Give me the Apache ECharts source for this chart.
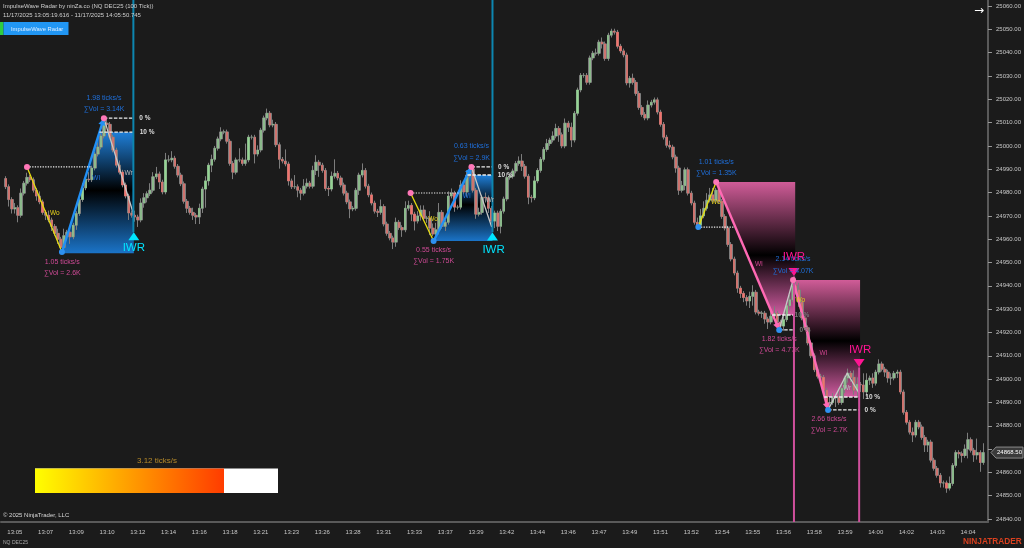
<!DOCTYPE html>
<html><head><meta charset="utf-8">
<style>html,body{margin:0;padding:0;background:#1b1b1b}#c{width:1024px;height:548px}</style>
<script src="https://cdn.jsdelivr.net/npm/echarts@6/dist/echarts.min.js"></script>
</head><body><div id="c"></div>
<script>
const timeLabels = ['13:05','13:07','13:09','13:10','13:12','13:14','13:16','13:18','13:21','13:23','13:26','13:28','13:31','13:33','13:37','13:39','13:42','13:44','13:46','13:47','13:49','13:51','13:52','13:54','13:55','13:56','13:58','13:59','14:00','14:02','14:03','14:04'];
const priceTicks = [25060,25050,25040,25030,25020,25010,25000,24990,24980,24970,24960,24950,24940,24930,24920,24910,24900,24890,24880,24870,24860,24850,24840];
const firstOpen = 24986;
const closes = [
24982.5,24977,24973,24973.5,24970.25,24979.75,24984,24986.5,24985.5,24981,24978.5,24976,24971.5,24970.25,24968.25,24965.5,24962.5,24960,24956.5,24961.5,
24963,24961,24966,24971,24977,24982,24985.75,24985.5,24990.5,24996.5,24999.5,25004.25,25009.75,25009.25,25003.75,24998.25,24991.75,24988.75,24983.25,24978.5,
24971.25,24970.25,24969.5,24968.25,24975.5,24977.75,24979.5,24981,24986.75,24988,24984.5,24980.25,24994,24994,24994.75,24991.25,24987.5,24983.75,24976.25,24973.25,
24971.5,24970.25,24969.5,24973.25,24981.5,24985,24991.75,24994.25,24999,25003,25006,25006,25002,24992.5,24988.75,24994,24994,24992.5,24994,25003.75,
25003.75,24996.5,24998.25,25006.75,25012,25014,25009,25009.25,25000.5,24994.25,24993.5,24992.25,24985,24982.5,24982.5,24981,24979.75,24982.75,24984,24982.75,
24989.5,24993,24991.75,24989.5,24981.75,24981.5,24987,24988.25,24986.25,24983.25,24979.75,24976,24973,24973.25,24981,24987.5,24989.5,24982.75,24979,24975.5,
24972,24971.5,24974,24966.5,24962.5,24960.5,24958.75,24967.25,24965,24964,24973.25,24974.5,24970.75,24967.75,24970,24972.5,24969,24969,24964.75,24962.25,
24964,24971.5,24965.5,24967.25,24978.5,24979.75,24973.75,24973.75,24983.25,24980.25,24987.5,24990,24981,24970.75,24971.5,24978,24977.75,24973.25,24967.75,24971.25,
24965.5,24972,24977.25,24986.5,24987,24989.25,24992.5,24993.5,24991.25,24987,24978,24977.75,24985,24989.5,24994.25,24998.5,25001,25002.5,25004.25,25007.5,
25004.75,25000,25009.75,25008,25002.5,25014,25024,25030.25,25030.25,25027.25,25037.75,25039.75,25039.75,25044.5,25043.75,25037.5,25047.5,25049.25,25048.75,25042.75,
25040.75,25039,25027,25029,25027.25,25022.5,25016.5,25013.5,25012,25017.5,25018.75,25019.75,25014.5,25009.25,25003.75,25000.25,24999.5,24995.25,24990.5,24981,
24983,24989.75,24979.75,24975.5,24967.25,24966,24970,24973.25,24976.75,24979,24976.75,24981,24976.25,24969.75,24964.75,24957.75,24951.5,24945.5,24939,24936.75,
24935,24933.5,24935.5,24937.25,24928.75,24928.25,24928.25,24925.75,24924.5,24927,24928.25,24924.5,24922.75,24925.5,24931.5,24934,24940,24938.25,24933,24926.25,
24922,24915.5,24910,24904,24901.25,24900.75,24895.25,24889.75,24890,24892,24892.25,24890,24896,24900.5,24902.5,24900.75,24895.25,24897.75,24897.5,24894.5,
24899.5,24900.5,24898.25,24903,24906.5,24904.25,24903,24900.5,24900.5,24902.5,24903,24894.5,24885.75,24881.5,24877.25,24876,24881.5,24879.5,24875,24871.75,
24873,24865.25,24861.75,24858.75,24855.5,24855.5,24853.25,24855.25,24863,24868.5,24868,24867.25,24870,24874,24869.5,24867.5,24868.5,24864.25,24868.5];
const wickUp = [
1,1,1,2,1,2,1,2,1,1,1,2,1,1,2,1,1,2,1,3,
1,2,1,1,1,2,1,3,1,1,2,1,1,2,1,1,1,2,1,1,
1,1,2,1,2,2,1,3,2,3,1,1,3,2,3,1,1,1,1,1,
1,2,1,2,1,2,1,2,1,1,2,1,1,1,1,1,5,1,7,1,
1,1,2,1,1,2,1,2,1,1,1,5,1,1,5,1,1,3,2,1,
2,3,1,1,1,1,2,6,1,1,1,1,1,1,1,1,3,1,1,1,
1,1,3,1,1,1,1,2,1,1,3,2,1,1,2,2,2,1,3,2,
3,4,1,1,2,2,1,1,2,1,2,2,1,1,2,1,2,1,1,1,
1,1,1,2,1,1,1,2,3,1,1,1,2,1,1,1,2,1,2,2,
1,1,2,1,2,1,1,1,1,1,1,1,2,1,2,1,1,1,1,1,
1,1,1,1,2,1,1,1,1,2,1,1,1,1,1,1,2,1,1,1,
2,1,1,1,1,2,3,3,3,3,3,1,1,1,1,1,1,1,1,1,
1,1,2,3,1,1,1,1,1,4,3,1,1,2,2,2,1,2,3,1,
1,1,1,1,1,1,1,1,2,2,1,4,2,1,2,1,3,3,1,5,
3,1,2,1,2,1,1,1,2,1,1,1,1,1,1,2,1,1,1,1,
1,1,1,1,1,1,1,3,1,1,1,1,2,3,1,1,6,1,4];
const wickDn = [
1,3,2,2,3,1,1,1,1,1,2,1,1,2,1,2,1,2,1,1,
2,3,1,2,1,1,1,1,1,1,1,1,1,1,1,1,1,1,1,1,
3,1,2,3,1,2,2,1,1,1,3,1,1,1,1,1,1,1,1,2,
1,2,3,3,2,8,2,3,1,1,1,1,1,1,3,1,1,1,1,1,
1,4,1,1,1,1,1,1,1,4,1,1,2,1,1,3,3,1,1,1,
1,2,5,1,1,3,1,1,1,1,1,1,4,1,1,2,1,1,1,1,
1,2,1,1,1,1,3,2,1,3,1,1,3,4,1,2,1,2,3,1,
1,2,1,2,1,1,2,1,1,1,2,1,1,2,1,1,2,2,1,3,
2,3,1,1,1,1,1,1,2,1,3,2,1,1,1,1,1,1,1,1,
3,1,1,2,3,1,1,1,1,1,1,1,1,1,2,1,1,1,1,1,
1,1,1,2,1,1,1,1,1,1,1,1,1,1,1,1,1,1,2,2,
1,2,1,1,1,2,1,1,1,1,1,1,1,1,1,1,1,1,2,2,
2,2,3,4,1,1,2,2,3,1,2,3,3,2,1,2,1,2,2,1,
1,1,1,1,1,1,1,2,2,1,4,1,1,2,2,2,2,3,3,3,
2,2,2,1,1,1,2,2,3,1,2,1,1,1,1,3,1,1,1,3,
3,1,1,1,2,2,2,1,1,1,2,3,1,4,1,3,2,4,1];

// overlays: x in bar positions, y in price
const fillBlue1 = [[19.82,24954],[32,25005.9],[43.2,25005.9],[43.2,24954]];
const fillBlue2 = [[140.7,24959.2],[151.7,24987.5],[159.85,24987.5],[159.85,24959.2]];
const fillPink1 = [[232.6,24984.5],[258.3,24984.5],[258.3,24927.5],[251,24927.5]];
const fillPink2 = [[257.6,24942.5],[279.4,24942.5],[279.4,24892.3],[267.9,24892.3]];
const yellowLegs = [[[8.45,24991],[19.82,24954.5]],[[133.2,24979.8],[140.7,24959.2]],[[226.8,24965.2],[232.6,24984.5]],[[257.6,24942.5],[260.5,24928]]];
const blueLegs = [[[19.82,24954.5],[33.46,25011.9]],[[140.7,24959.2],[153,24991]]];
const pinkLegs = [[[232.6,24984.5],[253.1,24921.1]],[[257.6,24942.5],[269,24886.8]]];
const paleLegs = [[[33.46,25011.9],[43.2,24970.4]],[[153,24991],[159.6,24965.2]],[[253.1,24921.1],[257.6,24942.5]],[[269,24886.8],[275.2,24902.5],[279.1,24894]]];
const dottedLevels = [[8.45,29.57,24991],[133.2,148.8,24979.8],[226.8,238.5,24965.2]];
const dashedLevels = [[33.46,43.05,25011.9],[32,43.05,25005.9],[153,159.85,24991],[151.7,159.85,24987.5],[253.1,257.6,24921.1],[250.8,257.6,24927.5],[269,279.1,24886.8],[267.7,279.1,24892.3]];
const pinkDots = [[8.45,24991],[33.46,25011.9],[133.2,24979.8],[153,24991],[232.6,24984.5],[257.6,24942.5]];
const blueDots = [[19.82,24954.5],[140.7,24959.2],[226.8,24965.2],[253.1,24921.1],[269,24886.8]];
const tealVerticals = [[43.05,25062.57,24963],[159.85,25062.57,24963]];
const pinkVerticals = [[257.9,24944,24838.73],[279.1,24905,24838.73]];
const upTriangles = [[43.2,24959.6],[159.85,24959.4]];
const downTriangles = [[257.9,24944.2],[279.1,24905.2]];
const labels = [
 [33.5,25020.5,'1.98 ticks/s','up'],[33.5,25015.8,'∑Vol = 3.14K','up'],
 [19.9,24950.2,'1.05 ticks/s','dn'],[19.9,24945.5,'∑Vol = 2.6K','dn'],
 [46.8,25011.9,'0 %','pct'],[47.5,25005.9,'10 %','pct'],
 [43.2,24956.2,'IWR','iwrUp'],
 [17.5,24971.2,'Wo','wo'],[31,24986.2,'WI','wi'],[41.5,24988.4,'Wr','wr'],
 [153,25000,'0.63 ticks/s','up'],[153,24994.8,'∑Vol = 2.9K','up'],
 [140.7,24955.4,'0.55 ticks/s','dn'],[140.7,24950.7,'∑Vol = 1.75K','dn'],
 [163.5,24991,'0 %','pct'],[164,24987.5,'10 %','pct'],
 [160.2,24955.4,'IWR','iwrUp'],
 [140.5,24968.7,'Wo','wo'],[151.5,24978.5,'WI','wi'],[159,24976.8,'Wr','wr'],
 [232.6,24993.1,'1.01 ticks/s','up'],[232.6,24988.4,'∑Vol = 1.35K','up'],
 [257.6,24951.5,'2.14 ticks/s','up'],[257.6,24946.4,'∑Vol = 4.07K','up'],
 [253.1,24917.2,'1.82 ticks/s','dn'],[253.1,24912.5,'∑Vol = 4.77K','dn'],
 [260.5,24927.5,'10 %','pctDim'],[261.5,24921.1,'0 %','pctDim'],
 [257.9,24952.4,'IWR','iwrDn'],
 [232.5,24976,'Wo','wo'],[246.5,24949.4,'WI','wip'],[260,24933.9,'Wo','wo'],
 [269.3,24882.9,'2.66 ticks/s','dn'],[269.3,24878.2,'∑Vol = 2.7K','dn'],
 [283.5,24892.3,'10 %','pct'],[282.7,24886.8,'0 %','pct'],
 [279.4,24912.5,'IWR','iwrDn'],
 [267.5,24911.2,'WI','wip'],[275.2,24896.2,'Wr','wr']
];

const labelStyles = {
 up:{fill:'#1f70dc',font:'7px "Liberation Sans"'}, dn:{fill:'#cf4a96',font:'7px "Liberation Sans"'},
 pct:{fill:'#dddddd',font:'bold 6.5px "Liberation Sans"'}, pctDim:{fill:'#777777',font:'bold 6.5px "Liberation Sans"'},
 iwrUp:{fill:'#00e5ff',font:'11.5px "Liberation Sans"'}, iwrDn:{fill:'#ff1493',font:'11.5px "Liberation Sans"'},
 wo:{fill:'#e6d21c',font:'6.5px "Liberation Sans"'}, wi:{fill:'#1f70dc',font:'6.5px "Liberation Sans"'},
 wip:{fill:'#d0458f',font:'6.5px "Liberation Sans"'}, wr:{fill:'#bbbbbb',font:'6.5px "Liberation Sans"'}
};
const T = '"Liberation Sans"';
const barCount = 321, firstBar = 1, firstTickBar = 4, barsPerTick = 10;
const priceMin = 24838.73, priceMax = 25062.57;

const cats = Array.from({length:barCount},(_,i)=>i);
const rows = [], bodies = [];
closes.forEach((c,k)=>{
  const o = k ? closes[k-1] : firstOpen;
  const top = Math.max(o,c), bot = Math.min(o,c);
  rows.push([o,c,bot-wickDn[k],top+wickUp[k]]);
  bodies.push([o,c,bot,top]);
});
const pad = Array(firstBar).fill('-');
const last = closes[closes.length-1];

function polyFill(api, pts, stops){
  return {type:'polygon',shape:{points:pts.map(p=>api.coord(p))},
    style:{fill:new echarts.graphic.LinearGradient(0,0,0,1,stops)}};
}
function fillsItem(params, api){
  const blue=(m)=>[{offset:0,color:'#1f7fd8'},{offset:m,color:'#000000'},{offset:1,color:'#1b74c8'}];
  const pink=(m)=>[{offset:0,color:'#d05c98'},{offset:m,color:'#000000'},{offset:1,color:'#d05ca0'}];
  return {type:'group',children:[
    polyFill(api,fillBlue1,blue(0.48)), polyFill(api,fillBlue2,blue(0.45)),
    polyFill(api,fillPink1,pink(0.55)), polyFill(api,fillPink2,pink(0.52))
  ]};
}
function leg(api, pts, color, width){
  return {type:'polyline',shape:{points:pts.map(p=>api.coord(p))},style:{stroke:color,lineWidth:width,fill:null}};
}
function arrow(api, pts, color){
  const a=api.coord(pts[pts.length-2]), b=api.coord(pts[pts.length-1]);
  const d=Math.hypot(b[0]-a[0],b[1]-a[1]), u=[(b[0]-a[0])/d,(b[1]-a[1])/d], n=[-u[1],u[0]];
  const s=b[0]-u[0]*7, t=b[1]-u[1]*7;
  return {type:'polygon',shape:{points:[b,[s+n[0]*3.5,t+n[1]*3.5],[s-n[0]*3.5,t-n[1]*3.5]]},style:{fill:color}};
}
function overlayItem(params, api){
  const ch=[];
  yellowLegs.forEach(p=>ch.push(leg(api,p,'#e8dc10',1.3)));
  paleLegs.forEach(p=>ch.push(leg(api,p,'#c8c8c8',1.3)));
  blueLegs.forEach(p=>{ch.push(leg(api,p,'#2290f5',2.4));ch.push(arrow(api,p,'#2290f5'));});
  pinkLegs.forEach(p=>{ch.push(leg(api,p,'#ff69b4',2.4));ch.push(arrow(api,p,'#ff69b4'));});
  dottedLevels.forEach(l=>ch.push({type:'line',shape:{x1:api.coord([l[0],l[2]])[0],y1:api.coord([l[0],l[2]])[1],x2:api.coord([l[1],l[2]])[0],y2:api.coord([l[1],l[2]])[1]},style:{stroke:'#eeeeee',lineWidth:1.2,lineDash:[1.3,1.3]}}));
  dashedLevels.forEach(l=>ch.push({type:'line',shape:{x1:api.coord([l[0],l[2]])[0],y1:api.coord([l[0],l[2]])[1],x2:api.coord([l[1],l[2]])[0],y2:api.coord([l[1],l[2]])[1]},style:{stroke:'#eeeeee',lineWidth:1.4,lineDash:[3.5,1.5]}}));
  tealVerticals.forEach(v=>{const a=api.coord([v[0],v[1]]),b=api.coord([v[0],v[2]]);ch.push({type:'line',shape:{x1:a[0],y1:a[1],x2:b[0],y2:b[1]},style:{stroke:'#0d86b0',lineWidth:2}});});
  pinkVerticals.forEach(v=>{const a=api.coord([v[0],v[1]]),b=api.coord([v[0],v[2]]);ch.push({type:'line',shape:{x1:a[0],y1:a[1],x2:b[0],y2:b[1]},style:{stroke:'#cf4f9c',lineWidth:2}});});
  upTriangles.forEach(p=>{const c=api.coord(p);ch.push({type:'polygon',shape:{points:[[c[0],c[1]-8],[c[0]-5.5,c[1]],[c[0]+5.5,c[1]]]},style:{fill:'#00e5ff'}});});
  downTriangles.forEach(p=>{const c=api.coord(p);ch.push({type:'polygon',shape:{points:[[c[0],c[1]],[c[0]-5.5,c[1]-8],[c[0]+5.5,c[1]-8]]},style:{fill:'#ff1493'}});});
  pinkDots.forEach(p=>{const c=api.coord(p);ch.push({type:'circle',shape:{cx:c[0],cy:c[1],r:3},style:{fill:'#ff77b8'}});});
  blueDots.forEach(p=>{const c=api.coord(p);ch.push({type:'circle',shape:{cx:c[0],cy:c[1],r:3},style:{fill:'#2e90f0'}});});
  labels.forEach(l=>{const c=api.coord([l[0],l[1]]);ch.push({type:'text',style:Object.assign({x:c[0],y:c[1],text:l[2],textAlign:'center',textVerticalAlign:'middle'},labelStyles[l[3]])});});
  const c=api.coord([barCount,last]);
  ch.push({type:'polygon',shape:{points:[[c[0]+3,c[1]],[c[0]+8,c[1]-5.5],[c[0]+35,c[1]-5.5],[c[0]+35,c[1]+5.5],[c[0]+8,c[1]+5.5]]},style:{fill:'#3a3a3a',stroke:'#8a8a8a',lineWidth:1}});
  ch.push({type:'text',style:{x:c[0]+9,y:c[1],text:last.toFixed(2),fill:'#ffffff',font:'6px '+T,textVerticalAlign:'middle'}});
  return {type:'group',children:ch};
}

const chart = echarts.init(document.getElementById('c'),null,{renderer:'canvas'});
const tickAt = i => i>=firstTickBar && (i-firstTickBar)%barsPerTick===0;
chart.setOption({
  animation:false, backgroundColor:'#1b1b1b',
  grid:{left:1,top:0,width:988,height:522,containLabel:false},
  xAxis:[
   {type:'category',data:cats,boundaryGap:true,position:'bottom',
    axisLine:{onZero:false,lineStyle:{color:'#5a5a5a',width:2}},
    axisTick:{alignWithLabel:true,interval:(i)=>tickAt(i),length:4,lineStyle:{color:'#9a9a9a'}},
    axisLabel:{interval:(i)=>tickAt(i),formatter:(v)=>timeLabels[(Number(v)-firstTickBar)/barsPerTick]||'',color:'#c8c8c8',fontSize:6,fontFamily:'Liberation Sans',margin:7,hideOverlap:false},
    splitLine:{show:false}},
   {type:'value',min:0,max:barCount,show:false,splitLine:{show:false}}
  ],
  yAxis:{type:'value',position:'right',min:priceMin,max:priceMax,scale:true,
    axisLine:{show:true,onZero:false,lineStyle:{color:'#5a5a5a',width:2}},
    axisTick:{show:true,length:4,customValues:priceTicks,lineStyle:{color:'#9a9a9a'}},
    axisLabel:{customValues:priceTicks,formatter:(v)=>Number(v).toFixed(2),color:'#c8c8c8',fontSize:6,fontFamily:'Liberation Sans',margin:8},
    splitLine:{show:false}},
  series:[
   {type:'custom',name:'zones',xAxisIndex:1,yAxisIndex:0,z:1,silent:true,data:[[0,24900]],encode:{x:0,y:1},renderItem:fillsItem,clip:false},
   {type:'candlestick',name:'wicks',z:2,barWidth:3,data:pad.concat(rows),large:false,progressive:0,silent:true,
    itemStyle:{color:'#7d7d7d',color0:'#7d7d7d',borderColor:'#7d7d7d',borderColor0:'#7d7d7d',borderWidth:1}},
   {type:'candlestick',name:'bodies',z:3,barWidth:1.6,data:pad.concat(bodies),large:false,progressive:0,silent:true,
    itemStyle:{color:'#93d593',color0:'#f2716b',borderColor:'#93d593',borderColor0:'#f2716b',borderWidth:0.4}},
   {type:'custom',name:'overlay',xAxisIndex:1,yAxisIndex:0,z:4,silent:true,data:[[0,24900]],encode:{x:0,y:1},renderItem:overlayItem,clip:false}
  ],
  graphic:[
   {type:'text',left:3,top:3,z:10,style:{text:'ImpulseWave Radar by ninZa.co (NQ DEC25 (100 Tick))',fill:'#cfcfcf',font:'6px '+T}},
   {type:'text',left:3,top:12,z:10,style:{text:'11/17/2025 13:05:19.616 - 11/17/2025 14:05:50.745',fill:'#cfcfcf',font:'6px '+T}},
   {type:'rect',z:9,shape:{x:0,y:22,width:3.5,height:13},style:{fill:'#2ecc40'}},
   {type:'rect',z:9,shape:{x:3.5,y:22,width:65,height:13},style:{fill:'#2196f3'}},
   {type:'text',left:11,top:26,z:10,style:{text:'ImpulseWave Radar',fill:'#dfeeff',font:'5.8px '+T}},
   {type:'text',left:974,top:5,z:10,style:{text:'→',fill:'#ffffff',font:'12px "DejaVu Sans"'}},
   {type:'text',left:137,top:457,z:10,style:{text:'3.12 ticks/s',fill:'#b5892a',font:'8px '+T}},
   {type:'rect',z:9,shape:{x:35,y:468.5,width:243,height:24.5},style:{fill:'#ffffff'}},
   {type:'rect',z:10,shape:{x:35,y:468.5,width:189,height:24.5},style:{fill:new echarts.graphic.LinearGradient(0,0,1,0,[{offset:0,color:'#ffff00'},{offset:1,color:'#ff3c00'}])}},
   {type:'text',left:3,top:512,z:10,style:{text:'© 2025 NinjaTrader, LLC',fill:'#d8d8d8',font:'6px '+T}},
   {type:'text',left:3,top:540,z:10,style:{text:'NQ DEC25',fill:'#aaaaaa',font:'5px '+T}},
   {type:'text',left:963,top:538,z:10,style:{text:'NINJATRADER',fill:'#d8401f',font:'bold 8.3px '+T}}
  ]
});
</script></body></html>
